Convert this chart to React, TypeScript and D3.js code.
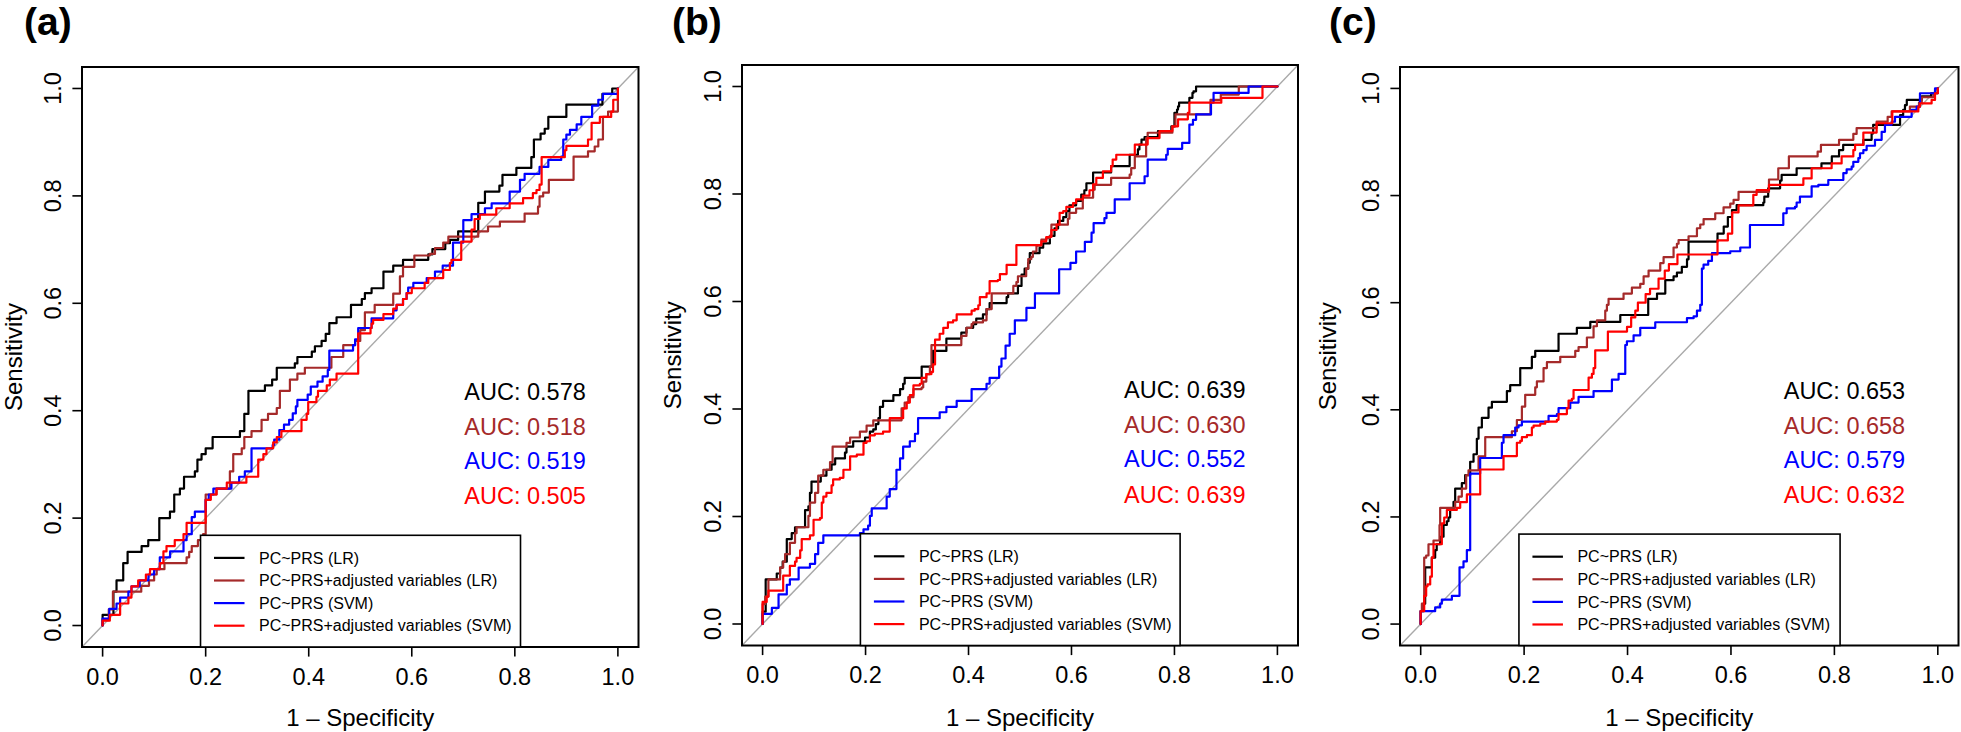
import React from 'react';
import * as d3 from 'd3';

type Pt = [number, number];

// ---------- text / categories ----------
const panelLabels = ['(a)', '(b)', '(c)'];
const seriesNames = [
  'PC~PRS (LR)',
  'PC~PRS+adjusted variables (LR)',
  'PC~PRS (SVM)',
  'PC~PRS+adjusted variables (SVM)',
];
const seriesColors = ['#000000', '#A52A2A', '#0000FF', '#FF0000'];
const aucA = ['0.578', '0.518', '0.519', '0.505'];
const aucB = ['0.639', '0.630', '0.552', '0.639'];
const aucC = ['0.653', '0.658', '0.579', '0.632'];
const tickValues = [0, 0.2, 0.4, 0.6, 0.8, 1.0];
const tickLabels = ['0.0', '0.2', '0.4', '0.6', '0.8', '1.0'];
const xTitle = '1 \u2013 Specificity';
const yTitle = 'Sensitivity';
const aucRows = [0.436, 0.371, 0.307, 0.241];

// ---------- ROC curves: [1 - specificity, sensitivity] ----------
const rocA_LR: Pt[] = [[0,0],[0,0.02],[0.021,0.063],[0.027,0.084],[0.04,0.116],[0.0485,0.137],[0.0757,0.148],[0.0886,0.159],[0.11,0.2],[0.1307,0.212],[0.139,0.244],[0.15,0.255],[0.158,0.277],[0.179,0.287],[0.184,0.309],[0.192,0.319],[0.2,0.33],[0.2135,0.351],[0.2665,0.362],[0.275,0.394],[0.283,0.437],[0.315,0.447],[0.329,0.458],[0.338,0.48],[0.373,0.488],[0.378,0.5],[0.406,0.51],[0.412,0.52],[0.425,0.53],[0.433,0.543],[0.44,0.563],[0.454,0.574],[0.482,0.597],[0.503,0.608],[0.509,0.619],[0.522,0.628],[0.545,0.659],[0.564,0.67],[0.583,0.681],[0.632,0.691],[0.64,0.701],[0.665,0.712],[0.674,0.718],[0.69,0.734],[0.729,0.787],[0.742,0.808],[0.77,0.819],[0.776,0.839],[0.803,0.852],[0.832,0.872],[0.837,0.905],[0.85,0.916],[0.858,0.925],[0.865,0.947],[0.9,0.97],[0.97,0.99],[0.989,1],[1,1]];
const rocA_LRadj: Pt[] = [[0,0],[0,0.01],[0.012,0.03],[0.02,0.063],[0.075,0.074],[0.09,0.084],[0.1,0.095],[0.105,0.105],[0.12,0.116],[0.163,0.127],[0.168,0.137],[0.173,0.148],[0.185,0.159],[0.195,0.17],[0.2,0.244],[0.221,0.255],[0.247,0.287],[0.2535,0.319],[0.27,0.33],[0.275,0.351],[0.289,0.362],[0.3085,0.383],[0.321,0.394],[0.338,0.405],[0.344,0.437],[0.3635,0.458],[0.378,0.469],[0.3925,0.48],[0.444,0.5],[0.467,0.522],[0.49,0.53],[0.5,0.55],[0.509,0.583],[0.528,0.597],[0.564,0.618],[0.577,0.65],[0.583,0.668],[0.605,0.689],[0.635,0.692],[0.645,0.703],[0.661,0.713],[0.671,0.724],[0.729,0.734],[0.748,0.743],[0.771,0.752],[0.819,0.767],[0.845,0.78],[0.848,0.799],[0.855,0.806],[0.866,0.83],[0.914,0.873],[0.942,0.883],[0.955,0.892],[0.962,0.905],[0.971,0.947],[0.981,0.957],[1,1]];
const rocA_SVM: Pt[] = [[0,0],[0,0.013],[0.013,0.031],[0.027,0.041],[0.034,0.052],[0.05,0.063],[0.056,0.073],[0.072,0.084],[0.089,0.095],[0.1,0.105],[0.111,0.127],[0.131,0.138],[0.157,0.159],[0.163,0.17],[0.173,0.202],[0.179,0.212],[0.2,0.234],[0.206,0.244],[0.215,0.255],[0.25,0.266],[0.265,0.277],[0.276,0.287],[0.289,0.33],[0.33,0.336],[0.333,0.346],[0.343,0.364],[0.352,0.374],[0.362,0.383],[0.369,0.395],[0.375,0.408],[0.378,0.42],[0.398,0.43],[0.404,0.445],[0.417,0.454],[0.427,0.464],[0.437,0.476],[0.44,0.512],[0.486,0.522],[0.49,0.533],[0.496,0.554],[0.522,0.572],[0.564,0.587],[0.5705,0.597],[0.583,0.608],[0.59,0.619],[0.593,0.629],[0.603,0.638],[0.629,0.647],[0.645,0.659],[0.66,0.67],[0.68,0.713],[0.7,0.755],[0.716,0.766],[0.742,0.777],[0.755,0.786],[0.79,0.808],[0.81,0.83],[0.819,0.841],[0.848,0.854],[0.865,0.867],[0.89,0.873],[0.894,0.905],[0.9,0.914],[0.907,0.923],[0.92,0.933],[0.929,0.947],[0.95,0.968],[0.962,0.979],[0.971,0.99],[1,1]];
const rocA_SVMadj: Pt[] = [[0,0],[0,0.009],[0.014,0.02],[0.034,0.041],[0.05,0.052],[0.056,0.073],[0.069,0.084],[0.084,0.095],[0.092,0.105],[0.111,0.116],[0.118,0.138],[0.124,0.148],[0.14,0.159],[0.157,0.17],[0.163,0.191],[0.2,0.234],[0.21,0.244],[0.221,0.255],[0.241,0.266],[0.279,0.277],[0.302,0.309],[0.312,0.319],[0.318,0.33],[0.331,0.341],[0.338,0.351],[0.347,0.362],[0.386,0.383],[0.396,0.394],[0.399,0.416],[0.415,0.426],[0.418,0.437],[0.435,0.447],[0.441,0.458],[0.454,0.469],[0.496,0.544],[0.52,0.554],[0.522,0.562],[0.525,0.569],[0.545,0.58],[0.564,0.59],[0.5705,0.597],[0.583,0.608],[0.59,0.619],[0.6,0.628],[0.625,0.638],[0.632,0.647],[0.661,0.662],[0.674,0.675],[0.677,0.681],[0.696,0.715],[0.716,0.737],[0.722,0.757],[0.732,0.765],[0.764,0.777],[0.79,0.786],[0.816,0.796],[0.835,0.805],[0.842,0.811],[0.848,0.821],[0.852,0.872],[0.897,0.885],[0.9,0.893],[0.942,0.905],[0.949,0.936],[0.965,0.947],[0.987,0.957],[0.991,0.979],[1,1]];

const rocB_LR: Pt[] = [[0,0],[0,0.023],[0.006,0.083],[0.0275,0.094],[0.034,0.105],[0.039,0.116],[0.047,0.158],[0.0566,0.169],[0.063,0.18],[0.0825,0.212],[0.089,0.219],[0.092,0.244],[0.095,0.265],[0.113,0.276],[0.124,0.287],[0.134,0.297],[0.141,0.308],[0.16,0.319],[0.163,0.33],[0.176,0.34],[0.199,0.347],[0.2085,0.358],[0.215,0.362],[0.22,0.372],[0.225,0.383],[0.228,0.404],[0.234,0.415],[0.254,0.426],[0.267,0.437],[0.273,0.447],[0.276,0.458],[0.309,0.479],[0.331,0.508],[0.357,0.531],[0.386,0.542],[0.396,0.551],[0.409,0.558],[0.415,0.568],[0.428,0.576],[0.435,0.586],[0.441,0.597],[0.474,0.608],[0.477,0.615],[0.496,0.629],[0.503,0.65],[0.509,0.661],[0.516,0.672],[0.519,0.69],[0.538,0.7],[0.545,0.708],[0.558,0.722],[0.567,0.736],[0.574,0.75],[0.584,0.757],[0.59,0.768],[0.596,0.779],[0.609,0.787],[0.619,0.799],[0.625,0.807],[0.629,0.82],[0.642,0.84],[0.677,0.852],[0.713,0.873],[0.729,0.883],[0.732,0.892],[0.736,0.901],[0.742,0.906],[0.768,0.917],[0.794,0.926],[0.8,0.951],[0.805,0.957],[0.807,0.963],[0.809,0.97],[0.829,0.979],[0.835,0.988],[0.837,0.991],[0.842,1],[1,1]];
const rocB_LRadj: Pt[] = [[0,0],[0,0.037],[0.005,0.051],[0.0113,0.083],[0.034,0.105],[0.04,0.116],[0.0437,0.13],[0.053,0.151],[0.063,0.169],[0.066,0.18],[0.089,0.201],[0.092,0.226],[0.102,0.244],[0.108,0.276],[0.118,0.287],[0.131,0.301],[0.136,0.33],[0.163,0.337],[0.17,0.347],[0.189,0.358],[0.202,0.369],[0.215,0.379],[0.27,0.401],[0.276,0.412],[0.283,0.422],[0.293,0.437],[0.309,0.44],[0.312,0.451],[0.318,0.465],[0.325,0.479],[0.328,0.519],[0.386,0.536],[0.396,0.551],[0.406,0.558],[0.409,0.561],[0.428,0.565],[0.435,0.586],[0.445,0.615],[0.487,0.629],[0.493,0.636],[0.496,0.647],[0.512,0.661],[0.516,0.679],[0.522,0.683],[0.525,0.693],[0.532,0.704],[0.5415,0.715],[0.551,0.718],[0.558,0.722],[0.561,0.743],[0.593,0.754],[0.596,0.765],[0.609,0.773],[0.622,0.793],[0.642,0.808],[0.645,0.817],[0.677,0.83],[0.713,0.836],[0.716,0.848],[0.723,0.87],[0.745,0.904],[0.748,0.914],[0.796,0.926],[0.802,0.948],[0.87,0.975],[0.89,0.985],[0.925,1],[1,1]];
const rocB_SVM: Pt[] = [[0,0],[0,0.019],[0.018,0.03],[0.031,0.055],[0.047,0.073],[0.053,0.083],[0.07,0.105],[0.092,0.112],[0.102,0.13],[0.108,0.151],[0.118,0.165],[0.189,0.169],[0.196,0.176],[0.205,0.183],[0.2085,0.201],[0.212,0.215],[0.241,0.237],[0.247,0.251],[0.26,0.287],[0.267,0.308],[0.273,0.33],[0.286,0.34],[0.296,0.354],[0.302,0.383],[0.344,0.394],[0.357,0.404],[0.377,0.415],[0.406,0.437],[0.435,0.447],[0.441,0.458],[0.4595,0.479],[0.464,0.494],[0.472,0.518],[0.48,0.54],[0.49,0.565],[0.5125,0.588],[0.529,0.615],[0.576,0.66],[0.598,0.672],[0.609,0.693],[0.626,0.711],[0.639,0.728],[0.643,0.746],[0.664,0.755],[0.668,0.765],[0.684,0.79],[0.713,0.82],[0.742,0.833],[0.748,0.864],[0.784,0.873],[0.787,0.884],[0.815,0.895],[0.829,0.929],[0.836,0.938],[0.842,0.948],[0.871,0.97],[0.876,0.988],[0.944,1],[1,1]];
const rocB_SVMadj: Pt[] = [[0,0],[0,0.041],[0.008,0.051],[0.0113,0.062],[0.04,0.09],[0.053,0.108],[0.063,0.116],[0.066,0.123],[0.073,0.137],[0.076,0.158],[0.092,0.165],[0.099,0.194],[0.1115,0.197],[0.115,0.226],[0.118,0.237],[0.124,0.244],[0.134,0.258],[0.137,0.269],[0.15,0.272],[0.157,0.287],[0.17,0.312],[0.183,0.315],[0.196,0.337],[0.202,0.34],[0.2085,0.351],[0.218,0.354],[0.234,0.358],[0.247,0.383],[0.273,0.401],[0.28,0.412],[0.286,0.426],[0.293,0.444],[0.3055,0.447],[0.309,0.458],[0.318,0.465],[0.328,0.469],[0.331,0.483],[0.335,0.529],[0.344,0.54],[0.351,0.551],[0.36,0.561],[0.37,0.565],[0.377,0.576],[0.406,0.583],[0.412,0.586],[0.419,0.593],[0.422,0.608],[0.435,0.615],[0.441,0.638],[0.457,0.64],[0.461,0.651],[0.474,0.668],[0.493,0.705],[0.5415,0.712],[0.551,0.72],[0.561,0.733],[0.571,0.743],[0.577,0.765],[0.584,0.768],[0.59,0.776],[0.603,0.783],[0.609,0.79],[0.622,0.797],[0.635,0.807],[0.642,0.818],[0.6482,0.83],[0.661,0.842],[0.677,0.852],[0.68,0.864],[0.687,0.873],[0.723,0.892],[0.748,0.904],[0.771,0.917],[0.796,0.926],[0.807,0.939],[0.826,0.951],[0.829,0.97],[0.891,0.979],[0.971,1],[1,1]];

const rocC_LR: Pt[] = [[0,0],[0,0.024],[0.0055,0.038],[0.0087,0.106],[0.0216,0.124],[0.028,0.138],[0.031,0.149],[0.0377,0.163],[0.0442,0.185],[0.0506,0.192],[0.0538,0.199],[0.057,0.213],[0.0635,0.228],[0.0667,0.253],[0.0796,0.263],[0.086,0.278],[0.0957,0.303],[0.1022,0.317],[0.1086,0.346],[0.1119,0.367],[0.1183,0.385],[0.1312,0.404],[0.1377,0.415],[0.1667,0.435],[0.1731,0.446],[0.1925,0.478],[0.215,0.499],[0.2215,0.51],[0.2666,0.542],[0.302,0.553],[0.328,0.564],[0.386,0.577],[0.44,0.607],[0.457,0.617],[0.473,0.642],[0.489,0.649],[0.4955,0.656],[0.505,0.667],[0.515,0.681],[0.518,0.714],[0.574,0.729],[0.586,0.742],[0.594,0.76],[0.602,0.773],[0.611,0.782],[0.6625,0.787],[0.6645,0.798],[0.672,0.8135],[0.695,0.828],[0.698,0.8385],[0.727,0.851],[0.775,0.86],[0.795,0.873],[0.809,0.885],[0.817,0.8945],[0.856,0.904],[0.872,0.916],[0.875,0.932],[0.927,0.95],[0.933,0.96],[0.9365,0.969],[0.94,0.9785],[0.969,0.985],[0.987,0.991],[1,1]];
const rocC_LRadj: Pt[] = [[0,0],[0,0.024],[0.0023,0.038],[0.0068,0.124],[0.0106,0.128],[0.0151,0.149],[0.0248,0.156],[0.0364,0.185],[0.0377,0.217],[0.0667,0.228],[0.0732,0.238],[0.0796,0.253],[0.088,0.278],[0.0925,0.287],[0.1119,0.313],[0.1248,0.349],[0.1763,0.36],[0.186,0.381],[0.1957,0.406],[0.2021,0.428],[0.2215,0.442],[0.2247,0.453],[0.2376,0.478],[0.2441,0.489],[0.2699,0.499],[0.2989,0.51],[0.3053,0.517],[0.3214,0.535],[0.3343,0.556],[0.3408,0.567],[0.3569,0.585],[0.3601,0.596],[0.3633,0.607],[0.3923,0.617],[0.4084,0.628],[0.4246,0.635],[0.4311,0.649],[0.4407,0.66],[0.4633,0.674],[0.4697,0.685],[0.489,0.703],[0.4955,0.71],[0.4987,0.717],[0.518,0.724],[0.5342,0.739],[0.5406,0.746],[0.5471,0.756],[0.5696,0.767],[0.5857,0.778],[0.5986,0.785],[0.6051,0.792],[0.6147,0.807],[0.6735,0.83],[0.6915,0.851],[0.712,0.873],[0.7676,0.882],[0.774,0.8945],[0.809,0.904],[0.8366,0.915],[0.843,0.926],[0.8817,0.938],[0.903,0.947],[0.9107,0.957],[0.946,0.966],[0.9636,0.9735],[0.969,0.9835],[0.9913,0.991],[1,1]];
const rocC_SVM: Pt[] = [[0,0],[0,0.024],[0.028,0.031],[0.0377,0.038],[0.0409,0.0455],[0.0603,0.0527],[0.0751,0.106],[0.0828,0.117],[0.0893,0.138],[0.0957,0.281],[0.115,0.31],[0.157,0.3385],[0.1602,0.3527],[0.1828,0.367],[0.1892,0.371],[0.1957,0.378],[0.2473,0.3886],[0.2634,0.392],[0.2666,0.403],[0.2892,0.4135],[0.3053,0.424],[0.3343,0.435],[0.3698,0.4565],[0.3827,0.467],[0.3956,0.521],[0.3988,0.528],[0.4117,0.539],[0.4246,0.553],[0.4536,0.5635],[0.5149,0.571],[0.5278,0.5745],[0.5342,0.585],[0.5406,0.596],[0.5438,0.6636],[0.547,0.671],[0.556,0.678],[0.5632,0.6925],[0.5986,0.696],[0.618,0.703],[0.6367,0.745],[0.7012,0.767],[0.7077,0.776],[0.7238,0.779],[0.727,0.787],[0.7334,0.798],[0.756,0.817],[0.769,0.82],[0.7882,0.829],[0.8173,0.842],[0.8237,0.849],[0.8334,0.854],[0.8366,0.863],[0.8463,0.87],[0.8495,0.879],[0.856,0.885],[0.8624,0.893],[0.8785,0.904],[0.8914,0.919],[0.8978,0.932],[0.9107,0.938],[0.9172,0.947],[0.9494,0.96],[0.9591,0.966],[0.9655,0.991],[0.9946,1],[1,1]];
const rocC_SVMadj: Pt[] = [[0,0],[0,0.024],[0.0068,0.0527],[0.0106,0.0705],[0.0132,0.074],[0.0184,0.0884],[0.0216,0.124],[0.0248,0.149],[0.0409,0.188],[0.0455,0.199],[0.0506,0.213],[0.0699,0.217],[0.0764,0.2276],[0.0893,0.242],[0.1151,0.2886],[0.1602,0.3136],[0.186,0.3385],[0.1925,0.342],[0.1957,0.349],[0.2054,0.3527],[0.215,0.367],[0.2183,0.3706],[0.2312,0.374],[0.2408,0.378],[0.2634,0.3814],[0.2666,0.392],[0.2827,0.403],[0.2859,0.417],[0.2924,0.4207],[0.2956,0.437],[0.3247,0.46],[0.3311,0.467],[0.3343,0.478],[0.3375,0.511],[0.362,0.546],[0.399,0.555],[0.407,0.5725],[0.415,0.585],[0.42,0.6],[0.435,0.616],[0.4435,0.626],[0.46,0.645],[0.472,0.66],[0.48,0.672],[0.4965,0.69],[0.574,0.7163],[0.594,0.729],[0.6024,0.7686],[0.6146,0.7817],[0.6432,0.8011],[0.6496,0.81],[0.6735,0.82],[0.74,0.832],[0.756,0.851],[0.7947,0.86],[0.814,0.873],[0.8366,0.885],[0.84,0.8945],[0.856,0.9175],[0.8817,0.935],[0.912,0.957],[0.9623,0.966],[0.9655,0.972],[0.988,0.9785],[0.9946,0.991],[1,1]];

// ---------- layout (pixels) ----------
const W = 1961;
const H = 732;
const FONT = "'Liberation Sans', Arimo, Arial, Helvetica, sans-serif";

const panels = [
  { left: 82, right: 638.5, top: 67, bottom: 647, labelX: 24, yTitleX: 22, curves: [rocA_LR, rocA_LRadj, rocA_SVM, rocA_SVMadj], auc: aucA },
  { left: 742, right: 1298, top: 65, bottom: 645.5, labelX: 672, yTitleX: 680.5, curves: [rocB_LR, rocB_LRadj, rocB_SVM, rocB_SVMadj], auc: aucB },
  { left: 1400, right: 1958.5, top: 67, bottom: 645.5, labelX: 1329, yTitleX: 1336, curves: [rocC_LR, rocC_LRadj, rocC_SVM, rocC_SVMadj], auc: aucC },
];

function Panel({ p, label }: { p: typeof panels[number]; label: string }) {
  const x = d3.scaleLinear().domain([-0.04, 1.04]).range([p.left, p.right]);
  const y = d3.scaleLinear().domain([-0.04, 1.04]).range([p.bottom, p.top]);
  const line = d3
    .line<Pt>()
    .x((d) => x(d[0]))
    .y((d) => y(d[1]))
    .curve(d3.curveStepAfter);

  const lx0 = x(0.19);
  const lx1 = x(0.811);
  const ly0 = y(0.168);
  const ly1 = p.bottom;
  const cx = (p.left + p.right) / 2;
  const cy = (p.top + p.bottom) / 2;

  return (
    <g fontFamily={FONT}>
      <text x={p.labelX} y={35} fontSize={39} fontWeight="bold" fill="#000">
        {label}
      </text>

      {/* diagonal */}
      <line x1={x(-0.04)} y1={y(-0.04)} x2={x(1.04)} y2={y(1.04)} stroke="#A9A9A9" strokeWidth={1.4} />

      {/* curves */}
      {p.curves.map((c, i) => (
        <path
          key={i}
          d={line(c) || ''}
          fill="none"
          stroke={seriesColors[i]}
          strokeWidth={2.2}
          strokeLinejoin="round"
          strokeLinecap="round"
        />
      ))}

      {/* box */}
      <rect x={p.left} y={p.top} width={p.right - p.left} height={p.bottom - p.top} fill="none" stroke="#000" strokeWidth={2} />

      {/* x axis */}
      {tickValues.map((v, i) => (
        <g key={'x' + i}>
          <line x1={x(v)} x2={x(v)} y1={p.bottom} y2={p.bottom + 9.6} stroke="#000" strokeWidth={1.6} />
          <text x={x(v)} y={p.bottom + 37.5} fontSize={23.5} textAnchor="middle" fill="#000">
            {tickLabels[i]}
          </text>
        </g>
      ))}
      {/* y axis */}
      {tickValues.map((v, i) => (
        <g key={'y' + i}>
          <line x1={p.left - 9.6} x2={p.left} y1={y(v)} y2={y(v)} stroke="#000" strokeWidth={1.6} />
          <text
            transform={`translate(${p.left - 21.5},${y(v)}) rotate(-90)`}
            fontSize={23.5}
            textAnchor="middle"
            fill="#000"
          >
            {tickLabels[i]}
          </text>
        </g>
      ))}

      <text x={cx} y={726} fontSize={24} textAnchor="middle" fill="#000">
        {xTitle}
      </text>
      <text transform={`translate(${p.yTitleX},${cy}) rotate(-90)`} fontSize={24} textAnchor="middle" fill="#000">
        {yTitle}
      </text>

      {/* AUC text */}
      {p.auc.map((a, i) => (
        <text key={'auc' + i} x={x(0.702)} y={y(aucRows[i]) + 8.4} fontSize={23.5} fill={seriesColors[i]}>
          {'AUC: ' + a}
        </text>
      ))}

      {/* legend */}
      <rect x={lx0} y={ly0} width={lx1 - lx0} height={ly1 - ly0} fill="#fff" stroke="#000" strokeWidth={1.6} />
      {seriesNames.map((s, i) => {
        const ey = ly0 + 22.6 + i * 22.6;
        return (
          <g key={'lg' + i}>
            <line x1={lx0 + 13.5} x2={lx0 + 44} y1={ey} y2={ey} stroke={seriesColors[i]} strokeWidth={2.2} />
            <text x={lx0 + 58.5} y={ey + 5.7} fontSize={16} fill="#000">
              {s}
            </text>
          </g>
        );
      })}
    </g>
  );
}

export default function App() {
  return (
    <>
      <style>{'html,body{margin:0;padding:0;background:#fff;}'}</style>
      <svg width={W} height={H} viewBox={`0 0 ${W} ${H}`} style={{ display: 'block' }}>
        <rect x={0} y={0} width={W} height={H} fill="#fff" />
        {panels.map((p, i) => (
          <Panel key={i} p={p} label={panelLabels[i]} />
        ))}
      </svg>
    </>
  );
}
